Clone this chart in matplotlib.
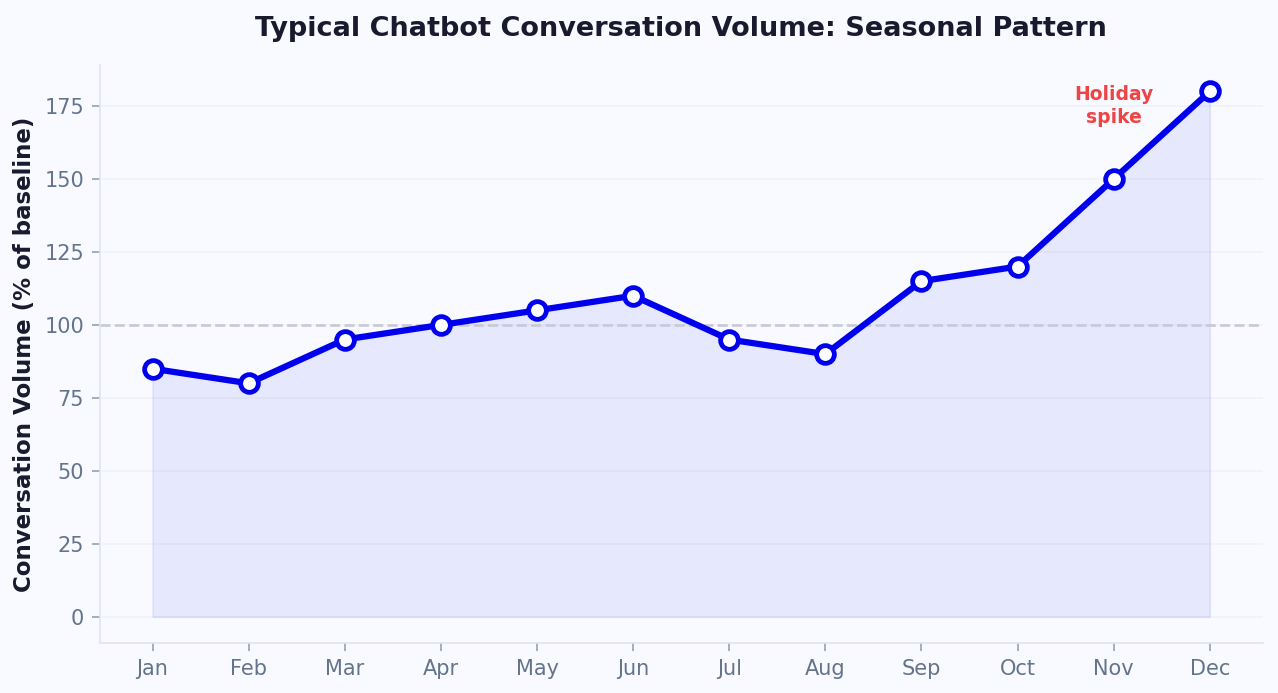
import numpy as np
import matplotlib.pyplot as plt

# monthly conversation volume, % of baseline
months = ['Jan', 'Feb', 'Mar', 'Apr', 'May', 'Jun',
          'Jul', 'Aug', 'Sep', 'Oct', 'Nov', 'Dec']
volume = [85, 80, 95, 100, 105, 110, 95, 90, 115, 120, 150, 180]
baseline = 100

bg = '#f8faff'
fig, ax = plt.subplots(figsize=(8.52, 4.62), dpi=150)
fig.patch.set_facecolor(bg)
ax.set_facecolor(bg)

x = np.arange(len(months))
ax.fill_between(x, volume, 0, color='#0000ee', alpha=0.07,
                edgecolor='#0000ee', linewidth=0.8, zorder=1)
ax.plot(x, volume, color='#0000ee', lw=3, marker='o', markersize=8.5,
        markerfacecolor='white', markeredgecolor='#0000ee',
        markeredgewidth=2.3, zorder=3)
ax.axhline(baseline, color='#c8cad6', lw=1.3, ls='--', zorder=2)

# annotate the December peak
ax.text(x[10], 175, 'Holiday\nspike', ha='center', va='center',
        color='#ef4444', fontsize=9, fontweight='bold', linespacing=1.25)

ax.set_xticks(x)
ax.set_xticklabels(months)
ax.set_ylabel('Conversation Volume (% of baseline)', fontsize=11,
              fontweight='bold', color='#1a1a2e')
ax.set_title('Typical Chatbot Conversation Volume: Seasonal Pattern',
             fontsize=13, fontweight='bold', color='#1a1a2e', pad=14)

ax.grid(axis='y', color='#f0f2f8', lw=0.8, zorder=0)
ax.set_axisbelow(True)
for side in ['top', 'right']:
    ax.spines[side].set_visible(False)
for side in ['left', 'bottom']:
    ax.spines[side].set_color('#e2e4ec')
ax.tick_params(colors='#64748b', labelsize=10, length=4)
ax.tick_params(color='#94a0b4')

plt.subplots_adjust(left=0.078, right=0.988, top=0.906, bottom=0.072)
plt.savefig('out.png', facecolor=bg)
